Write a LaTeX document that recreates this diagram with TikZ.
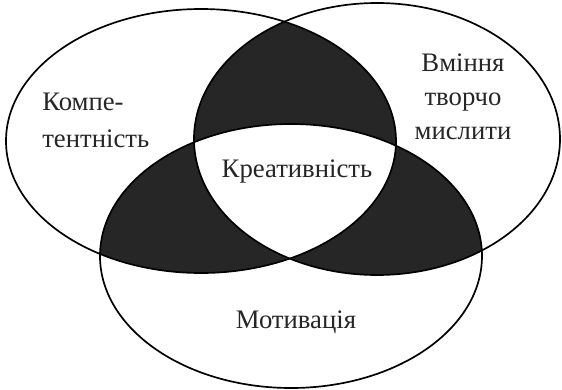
\documentclass[tikz,border=0pt]{standalone}
\usepackage{fontspec}
\setmainfont{Liberation Serif}
\usetikzlibrary{positioning}

% the three sets
\def\setleft{(201,141) ellipse [x radius=195, y radius=132]}
\def\setright{(377,139) ellipse [x radius=183, y radius=136]}
\def\setbottom{(291,256) ellipse [x radius=191, y radius=132]}

\begin{document}
\begin{tikzpicture}[
    x=0.025cm, y=-0.025cm,
    ring/.style={draw=black, line width=1.2pt},
    lens/.style={fill=black!85},
    caption/.style={font=\fontsize{19}{24}\selectfont, inner sep=0pt, text=black!85}
]
    \useasboundingbox (0,0) rectangle (562,390);

    % pairwise overlaps
    \begin{scope}
        \clip \setleft;
        \fill[lens] \setright;
    \end{scope}
    \begin{scope}
        \clip \setleft;
        \fill[lens] \setbottom;
    \end{scope}
    \begin{scope}
        \clip \setright;
        \fill[lens] \setbottom;
    \end{scope}
    % common part
    \begin{scope}
        \clip \setleft;
        \clip \setright;
        \fill[white] \setbottom;
    \end{scope}

    \draw[ring] \setleft;
    \draw[ring] \setright;
    \draw[ring] \setbottom;

    \node[caption, font=\fontsize{19}{26}\selectfont, align=left, anchor=north west] (competence) at (42,93) {Компе-\\тентність};
    \node[caption, align=center, anchor=north] (thinking) at (463,54) {Вміння\\творчо\\мислити};
    \node[caption, anchor=base] (creativity) at (297,177) {Креативність};
    \node[caption, anchor=base] (motivation) at (296,328) {Мотивація};

\end{tikzpicture}
\end{document}
